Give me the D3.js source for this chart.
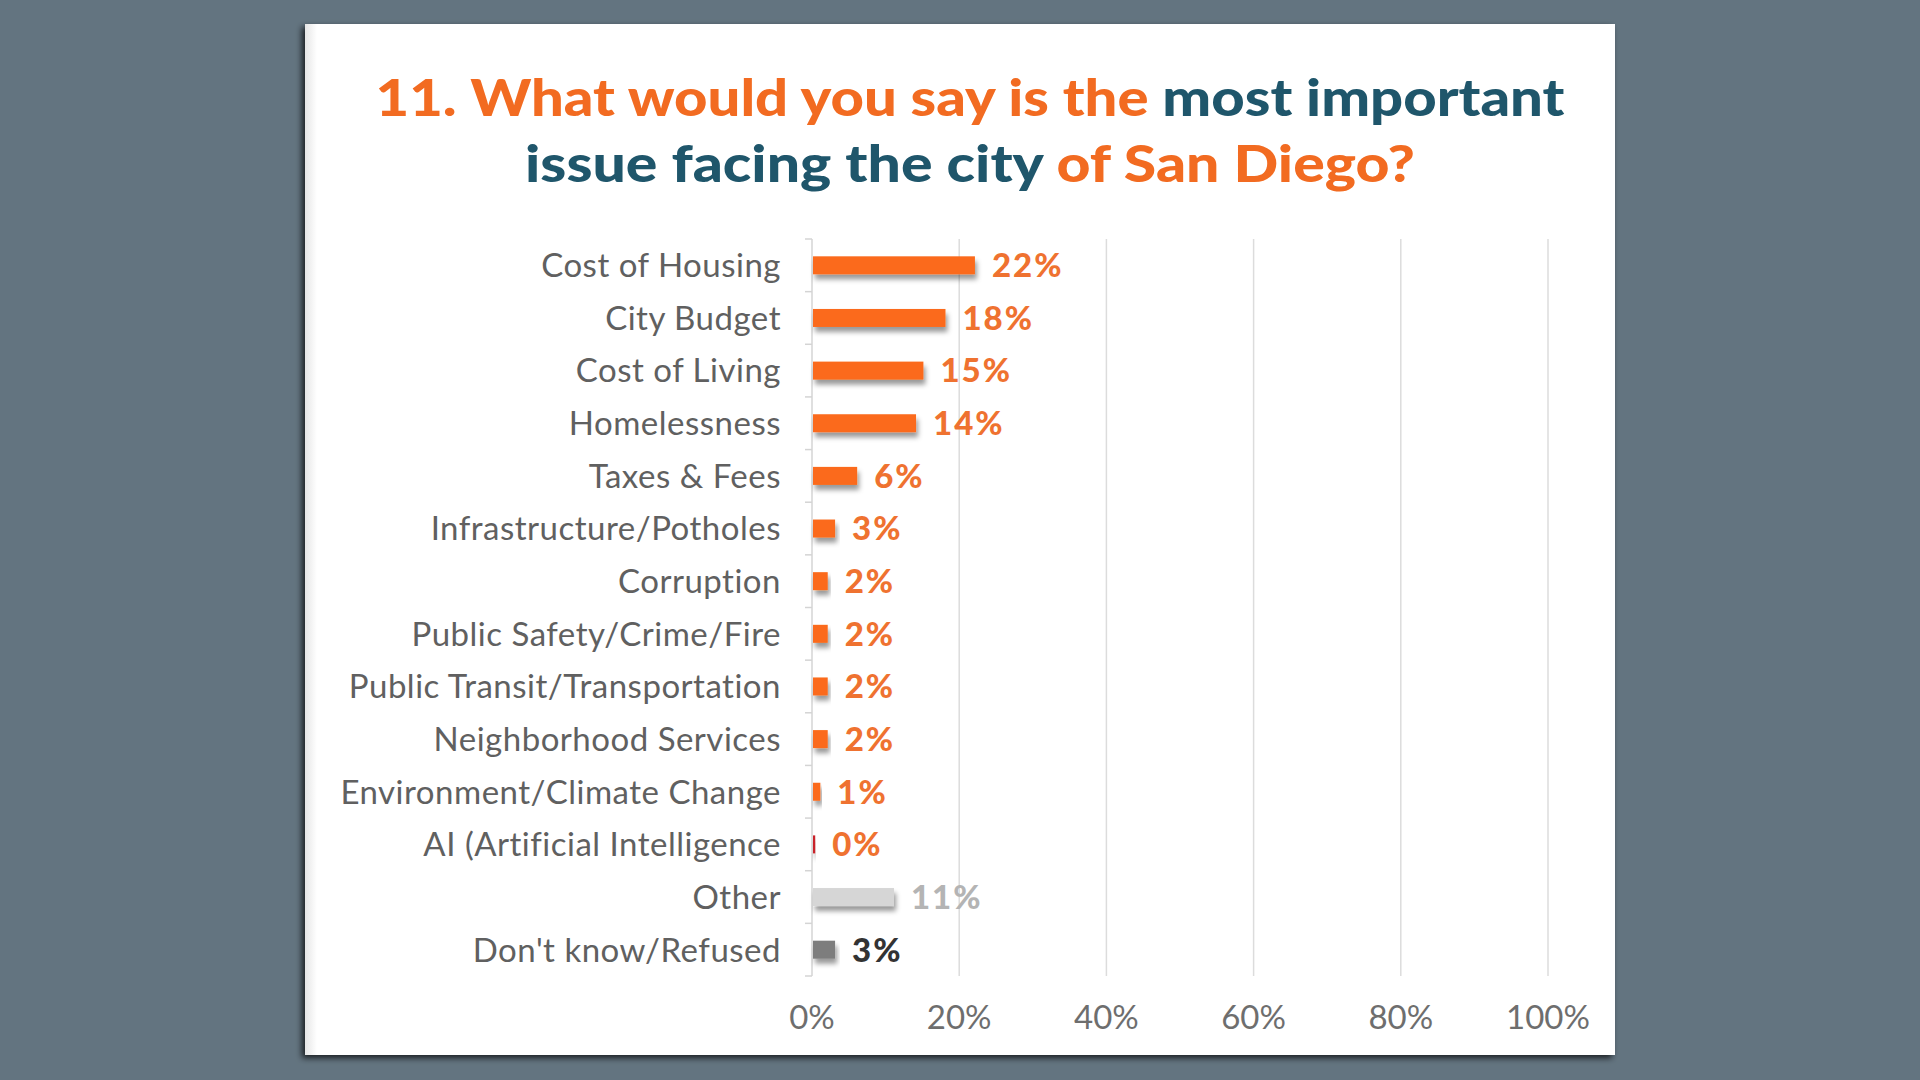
<!DOCTYPE html>
<html>
<head>
<meta charset="utf-8">
<script src="https://cdn.jsdelivr.net/npm/d3@7"></script>
<style>
  body{margin:0;background:#637480;}
  svg{display:block;}
</style>
</head>
<body>
<div class="chart"></div>
<script>
const categories = ["Cost of Housing","City Budget","Cost of Living","Homelessness","Taxes & Fees",
    "Infrastructure/Potholes","Corruption","Public Safety/Crime/Fire","Public Transit/Transportation",
    "Neighborhood Services","Environment/Climate Change","AI (Artificial Intelligence","Other","Don't know/Refused"];
const values = [22,18,15,14,6,3,2,2,2,2,1,0.3,11,3];
const xticks = [0,20,40,60,80,100];
const titleLine1 = [["11. What would you say is the ","orange"],["most important","teal"]];
const titleLine2 = [["issue facing the city ","teal"],["of San Diego?","orange"]];

class BarChart{
    constructor(){
        this.width = 1920;
        this.height = 1080;
        this.card = {x:305,y:24,w:1310,h:1031};
        this.plot = {left:812,right:1548,top:239,bottom:976};
        this.colors = {orange:"#f26b21",teal:"#1f566b"};
        this.data = categories.map((c,i)=>({cat:c,val:values[i]}));
        this.svg = d3.select(".chart").append("svg").attr("width",this.width).attr("height",this.height);
        this.xscale = d3.scaleLinear().domain([0,100]).range([this.plot.left,this.plot.right]);
        this.yscale = d3.scaleBand().domain(categories).range([this.plot.top,this.plot.bottom]);
        this.barColor = d3.scaleOrdinal()
                        .domain(["AI (Artificial Intelligence","Other","Don't know/Refused"])
                        .range(["#c9242b","#d6d6d6","#7d7d7d"])
                        .unknown("#fb6a1a");
        this.labelColor = d3.scaleOrdinal()
                        .domain(["Other","Don't know/Refused"])
                        .range(["#b4b4b4","#333333"])
                        .unknown("#ef7230");
    }
    drawCard(){
        let defs = this.svg.append("defs");
        let cs = defs.append("filter").attr("id","cardshadow").attr("x","-5%").attr("y","-5%").attr("width","110%").attr("height","110%");
        cs.append("feDropShadow").attr("dx",-3).attr("dy",3).attr("stdDeviation",3).attr("flood-color","#000").attr("flood-opacity",0.75);
        let bs = defs.append("filter").attr("id","barshadow").attr("x","-20%").attr("y","-40%").attr("width","140%").attr("height","200%");
        bs.append("feDropShadow").attr("dx",2).attr("dy",5).attr("stdDeviation",2.5).attr("flood-color","#000").attr("flood-opacity",0.4);
        let grad = defs.append("linearGradient").attr("id","edge");
        grad.append("stop").attr("offset","0%").attr("stop-color","#e6e6e6");
        grad.append("stop").attr("offset","100%").attr("stop-color","#ffffff");

        this.svg.append("rect")
            .attr("x",this.card.x).attr("y",this.card.y)
            .attr("width",this.card.w).attr("height",this.card.h)
            .attr("fill","#fff")
            .attr("filter","url(#cardshadow)");
        this.svg.append("rect")
            .attr("x",this.card.x).attr("y",this.card.y)
            .attr("width",12).attr("height",this.card.h)
            .attr("fill","url(#edge)");
    }
    drawTitle(){
        let title = this.svg.append("g").classed("title",true)
                    .style("font-family","Lato, 'Open Sans', sans-serif")
                    .style("font-weight",900)
                    .style("font-size","52px");
        // the original typeface is wider than Lato, so stretch each line to its width
        [[titleLine1,116,1189],[titleLine2,182,890]].forEach(([parts,y,len])=>{
            title.append("text")
                .attr("x",970).attr("y",y)
                .attr("text-anchor","middle")
                .attr("textLength",len)
                .attr("lengthAdjust","spacingAndGlyphs")
                .selectAll("tspan")
                .data(parts)
                .join("tspan")
                .text(d=>d[0])
                .attr("fill",d=>this.colors[d[1]]);
        });
    }
    drawAxis(){
        let g = this.svg.append("g").classed("axis",true);
        g.selectAll(".grid")
            .data(xticks.filter(d=>d>0))
            .join("line")
            .classed("grid",true)
            .attr("x1",d=>this.xscale(d)).attr("x2",d=>this.xscale(d))
            .attr("y1",this.plot.top).attr("y2",this.plot.bottom)
            .attr("stroke","#dcdcdc").attr("stroke-width",1.5);
        // category axis with small ticks between rows
        let bounds = categories.map(c=>this.yscale(c)).concat([this.plot.bottom]);
        g.append("line")
            .attr("x1",this.plot.left).attr("x2",this.plot.left)
            .attr("y1",this.plot.top).attr("y2",this.plot.bottom)
            .attr("stroke","#d4d4d4").attr("stroke-width",1.5);
        g.selectAll(".ytick")
            .data(bounds)
            .join("line")
            .classed("ytick",true)
            .attr("x1",this.plot.left-7).attr("x2",this.plot.left)
            .attr("y1",d=>d).attr("y2",d=>d)
            .attr("stroke","#d4d4d4").attr("stroke-width",1.5);
        g.selectAll(".xlabel")
            .data(xticks)
            .join("text")
            .classed("xlabel",true)
            .attr("x",d=>this.xscale(d))
            .attr("y",1029)
            .attr("text-anchor","middle")
            .style("font-family","Lato, sans-serif")
            .style("font-size","33px")
            .attr("fill","#6e6e6e")
            .text(d=>d+"%");
    }
    drawBars(){
        let bw = this.yscale.bandwidth();
        let barH = 18;
        let rows = this.svg.append("g").classed("bars",true)
                    .selectAll(".row")
                    .data(this.data)
                    .join("g")
                    .classed("row",true)
                    .attr("transform",d=>`translate(0,${this.yscale(d.cat)+bw/2})`);
        rows.append("text")
            .attr("x",781)
            .attr("dy","0.36em")
            .attr("text-anchor","end")
            .style("font-family","Lato, sans-serif")
            .style("font-size","33px")
            .style("letter-spacing","0.5px")
            .attr("fill","#606060")
            .text(d=>d.cat);
        rows.append("rect")
            .attr("x",this.xscale(0)+1)
            .attr("y",-barH/2)
            .attr("width",d=>this.xscale(d.val)-this.xscale(0))
            .attr("height",barH)
            .attr("fill",d=>this.barColor(d.cat))
            .attr("filter","url(#barshadow)");
        rows.append("text")
            .attr("x",d=>this.xscale(d.val)+18)
            .attr("dy","0.36em")
            .style("font-family","Lato, sans-serif")
            .style("font-weight",900)
            .style("font-size","33px")
            .style("letter-spacing","2px")
            .attr("fill",d=>this.labelColor(d.cat))
            .text(d=>Math.round(d.val)+"%");
    }
    draw(){
        this.drawCard();
        this.drawTitle();
        this.drawAxis();
        this.drawBars();
    }
}

const chart = new BarChart();
chart.draw();
</script>
</body>
</html>
